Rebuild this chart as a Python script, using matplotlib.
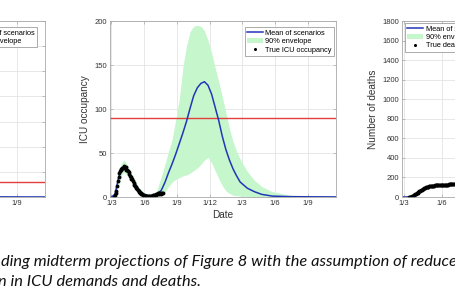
import matplotlib.pyplot as plt
from matplotlib.lines import Line2D
from matplotlib.patches import Patch

plt.rcParams['font.family'] = ['Liberation Sans', 'DejaVu Sans']

# days counted from 1 March 2020
grid_days = [0, 10, 20, 30, 36, 45, 60, 75, 90, 110, 125, 140, 150, 160, 170, 180, 190, 200,
             210, 220, 230, 240, 250, 260, 270, 280, 290, 300, 310, 320, 330, 340, 350, 360,
             380, 400, 420, 450, 500, 560, 628]
icu_mean = [0, 3, 22, 33, 35, 30, 20, 9, 3, 1, 2, 8, 17, 28, 38, 49, 61, 73,
            86, 101, 115, 124, 129, 131, 127, 117, 102, 87, 69, 54, 42, 32, 24, 17,
            10, 6, 3, 1, 0.4, 0.2, 0.1]
icu_hi = [0, 5, 30, 40, 42, 36, 24, 12, 5, 3, 5, 24, 38, 52, 66, 88, 112, 148,
          172, 188, 194, 195, 194, 189, 178, 164, 147, 131, 114, 96, 78, 63, 52, 43,
          29, 19, 12, 6, 2, 0.5, 0.3]
icu_lo = [0, 1, 14, 26, 28, 24, 15, 6, 1, 0, 0, 2, 6, 12, 17, 20, 22, 24,
          25, 27, 30, 33, 37, 42, 45, 39, 30, 21, 13, 7, 4, 2, 1.5, 1, 0.5, 0.2, 0, 0, 0, 0, 0]

icu_obs_days = list(range(8, 146, 2))
icu_obs = [0, 2, 4, 7, 12, 18, 23, 27, 29, 31, 32, 33, 33, 35, 34, 33, 34, 31, 31, 29,
           28, 26, 24, 23, 21, 20, 18, 16, 14, 13, 11, 10, 9, 8, 7, 6, 4, 4, 3, 3,
           2, 2, 1, 1, 1, 1, 1, 0, 1, 1, 0, 1, 1, 1, 2, 1, 2, 2, 3, 2, 3, 4, 3, 5,
           4, 5, 3, 4, 5]
icu_limit = 90

death_days = [0, 10, 20, 30, 40, 50, 60, 75, 90, 110, 130, 145, 200, 300, 400, 545]
death_mean = [0, 1, 8, 34, 64, 90, 106, 118, 123, 127, 130, 132, 150, 260, 380, 430]
death_hi = [0, 2, 12, 40, 72, 98, 114, 124, 130, 135, 140, 150, 230, 520, 760, 820]
death_lo = [0, 0, 5, 28, 58, 84, 100, 112, 118, 121, 124, 126, 132, 170, 210, 230]
death_obs_days = list(range(14, 146, 2))
death_obs = [0, 2, 4, 8, 12, 17, 23, 28, 34, 40, 46, 52, 58, 64, 70, 75, 80, 85, 90, 94,
             98, 101, 104, 106, 108, 110, 112, 113, 115, 116, 117, 118, 119, 120, 121,
             121, 122, 122, 123, 124, 124, 125, 125, 126, 126, 127, 127, 127, 128, 128,
             128, 129, 129, 129, 130, 130, 130, 131, 131, 131, 131, 132, 132, 132, 133, 133]

left_mean = [0, 40, 260, 420, 440, 380, 250, 110, 40, 12, 10, 30, 90, 180, 290, 420, 560, 700,
             820, 900, 930, 910, 860, 780, 680, 570, 460, 360, 270, 200, 140, 100, 70, 45,
             22, 10, 5, 2, 1, 0.5, 0.2]
left_limit = 120

month_ticks = [0, 92, 184, 275, 365, 457, 549]
month_labels = ['1/3', '1/6', '1/9', '1/12', '1/3', '1/6', '1/9']

blue = '#2336b8'
green = '#c6f6cc'
red = '#e2403c'
fs_tick = 5.5
fs_lab = 7.2
fs_leg = 5.3

fig = plt.figure(figsize=(4.56, 3.04), dpi=100)


def style(ax):
    ax.grid(True, color='#e4e4e4', lw=0.6)
    ax.set_axisbelow(True)
    for s in ax.spines.values():
        s.set_color('#a8a8a8')
        s.set_linewidth(0.6)
    ax.tick_params(direction='in', length=2, width=0.5, colors='#a8a8a8',
                   labelcolor='#333333', labelsize=fs_tick, pad=2, top=True, right=True)


def legend(ax, handles, labels, loc, anchor):
    leg = ax.legend(handles, labels, loc=loc, bbox_to_anchor=anchor, borderaxespad=0,
                    fontsize=fs_leg, fancybox=False, framealpha=1, edgecolor='#8a8a8a',
                    handlelength=2.2, handleheight=0.8, handletextpad=0.3,
                    labelspacing=0.15, borderpad=0.3)
    leg.get_frame().set_linewidth(0.5)


h_mean = Line2D([], [], color=blue, lw=1.1)
h_env = Patch(facecolor=green, edgecolor='none')

# left panel (mostly outside the crop)
axl = fig.add_axes([-181 / 456, 107 / 304, 226 / 456, 176 / 304])
style(axl)
axl.plot(grid_days, left_mean, color=blue, lw=1.1)
axl.axhline(left_limit, color=red, lw=1)
axl.set_xlim(-4, 628)
axl.set_ylim(0, 1400)
axl.set_xticks(month_ticks, month_labels)
legend(axl, [h_mean, h_env], ['Mean of scenarios', '90% envelope'], 'upper right', (0.965, 0.966))

# middle panel: ICU occupancy
ax = fig.add_axes([110 / 456, 107 / 304, 226 / 456, 176 / 304])
style(ax)
ax.fill_between(grid_days, icu_lo, icu_hi, color=green, lw=0)
ax.axhline(icu_limit, color=red, lw=1)
ax.plot(grid_days, icu_mean, color=blue, lw=1.1)
ax.plot(icu_obs_days, icu_obs, 'o', color='black', ms=2.8, mew=0)
ax.set_xlim(-4, 628)
ax.set_ylim(0, 200)
ax.set_yticks([0, 50, 100, 150, 200])
ax.set_xticks(month_ticks, month_labels)
ax.set_xlabel('Date', fontsize=fs_lab, color='#333333', labelpad=2)
ax.set_ylabel('ICU occupancy', fontsize=fs_lab, color='#333333', labelpad=3)
h_obs = Line2D([], [], ls='none', marker='o', color='black', ms=2.2, mew=0)
legend(ax, [h_mean, h_env, h_obs], ['Mean of scenarios', '90% envelope', 'True ICU occupancy'],
       'upper right', (0.991, 0.966))

# right panel: deaths
axr = fig.add_axes([402 / 456, 107 / 304, 226 / 456, 176 / 304])
style(axr)
axr.fill_between(death_days, death_lo, death_hi, color=green, lw=0)
axr.plot(death_days, death_mean, color=blue, lw=1.1)
axr.plot(death_obs_days, death_obs, 'o', color='black', ms=2.8, mew=0)
axr.set_xlim(-4, 545)
axr.set_ylim(0, 1800)
axr.set_yticks(range(0, 1801, 200))
axr.set_xticks([0, 92, 184, 275, 365, 457], ['1/3', '1/6', '1/9', '1/12', '1/3', '1/6'])
axr.set_xlabel('Date', fontsize=fs_lab, color='#333333', labelpad=2)
axr.set_ylabel('Number of deaths', fontsize=fs_lab, color='#333333', labelpad=3)
legend(axr, [h_mean, h_env, h_obs], ['Mean of scenarios', '90% envelope', 'True deaths'],
       'upper left', (0.013, 0.989))

# caption (cropped)
cap = dict(fontsize=11.8, style='italic', family=['Lato', 'DejaVu Sans'], color='#111111')
fig.text(1 / 456, 1 - 266 / 304, 'ding midterm projections of Figure 8 with the assumption of reduced',
         va='baseline', **cap)
fig.text(-2 / 456, 1 - 286 / 304, 'n in ICU demands and deaths.', va='baseline', **cap)

fig.savefig('out.png', dpi=100)
